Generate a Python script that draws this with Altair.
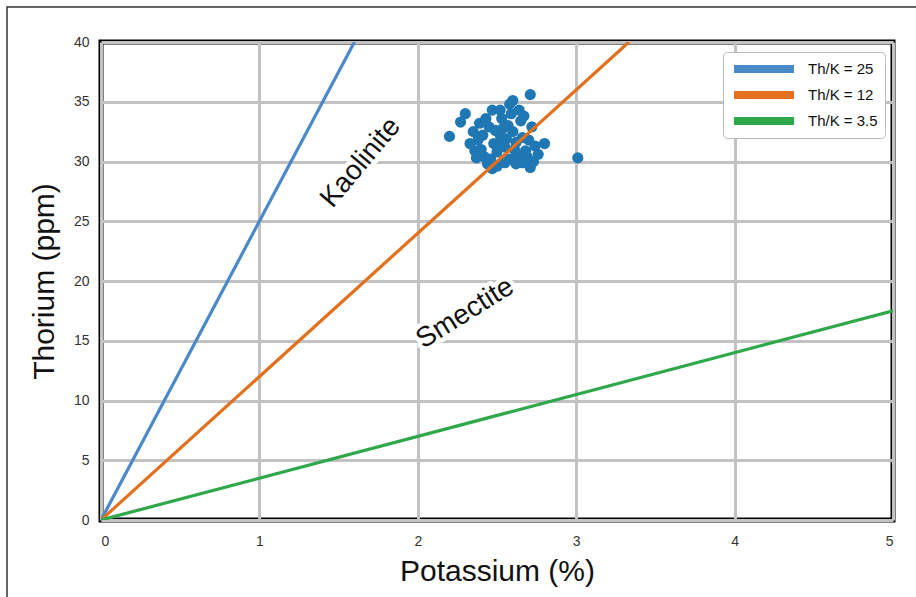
import altair as alt
import pandas as pd

# Scatter data (Potassium %, Thorium ppm)
k_vals = [2.71, 2.47, 2.52, 2.60, 2.30, 2.27, 2.20, 2.80, 3.01, 2.47, 2.71,
          2.35, 2.38, 2.40, 2.42, 2.45, 2.48, 2.50, 2.52, 2.55, 2.57, 2.58,
          2.60, 2.62, 2.63, 2.65, 2.66, 2.68, 2.70, 2.72, 2.73, 2.44, 2.50,
          2.55, 2.62, 2.36, 2.39, 2.53, 2.59, 2.64, 2.67, 2.33, 2.46, 2.49,
          2.54, 2.56, 2.61, 2.69, 2.74, 2.43, 2.58, 2.51, 2.66, 2.41, 2.37,
          2.76]
th_vals = [35.6, 34.3, 34.3, 35.1, 34.0, 33.3, 32.1, 31.5, 30.3, 29.4, 29.5,
           32.5, 31.8, 31.0, 30.4, 32.9, 31.5, 30.8, 32.2, 31.2, 33.0, 30.2,
           32.5, 31.6, 30.6, 33.4, 32.0, 30.9, 31.8, 32.9, 30.0, 29.8, 29.6,
           29.9, 29.8, 30.9, 33.2, 33.6, 34.0, 34.3, 33.8, 31.5, 30.2, 32.6,
           32.8, 31.9, 31.0, 30.4, 31.3, 33.6, 34.8, 31.4, 29.9, 32.2, 30.3,
           30.6]

# Th/K ratio lines
line_labels = ["Th/K = 25", "Th/K = 12", "Th/K = 3.5"]
line_colors = ["#4a89c8", "#e3701c", "#2ea84a"]
line_k = [[0, 1.6], [0, 3.3333], [0, 5.0]]
line_th = [[0, 40], [0, 40], [0, 17.5]]

# Region labels
region_text = ["Kaolinite", "Smectite"]
region_k = [1.64, 2.30]
region_th = [29.9, 17.3]
region_angle = [310, 328]

x_ticks = [0, 1, 2, 3, 4, 5]
y_ticks = [0, 5, 10, 15, 20, 25, 30, 35, 40]

pts = pd.DataFrame({"K": k_vals, "Th": th_vals})
rows = []
for lab, ks, ths in zip(line_labels, line_k, line_th):
    for i, (k, t) in enumerate(zip(ks, ths)):
        rows.append({"label": lab, "K": k, "Th": t, "o": i})
lines = pd.DataFrame(rows)
regions = pd.DataFrame({"text": region_text, "K": region_k, "Th": region_th,
                        "angle": region_angle})

xscale = alt.Scale(domain=[0, 5], nice=False, zero=False)
yscale = alt.Scale(domain=[0, 40], nice=False, zero=False)
xaxis = alt.Axis(values=x_ticks, title="Potassium (%)", format="d")
yaxis = alt.Axis(values=y_ticks, title="Thorium (ppm)", format="d")

frame = alt.Chart(pd.DataFrame({"a": [0]})).mark_rect(
    fill=None, stroke="#333333", strokeWidth=1.5
).encode(x=alt.value(-94), x2=alt.value(830), y=alt.value(-35), y2=alt.value(560))

scatter = alt.Chart(pts).mark_circle(size=125, opacity=1, color="#1f77b4").encode(
    x=alt.X("K:Q", scale=xscale, axis=xaxis),
    y=alt.Y("Th:Q", scale=yscale, axis=yaxis),
)

line_layer = alt.Chart(lines).mark_line(strokeWidth=3.2, strokeCap="butt", clip=True).encode(
    x=alt.X("K:Q", scale=xscale),
    y=alt.Y("Th:Q", scale=yscale),
    order="o:Q",
    color=alt.Color(
        "label:N",
        scale=alt.Scale(domain=line_labels, range=line_colors),
        sort=line_labels,
        legend=alt.Legend(
            title=None, orient="none", legendX=622, legendY=10,
            symbolType="stroke", symbolSize=3600, symbolStrokeWidth=8,
            clipHeight=20, rowPadding=6, labelOffset=10,
            labelFont="Liberation Sans", labelFontSize=15, labelColor="#111111",
            padding=7, fillColor="white", strokeColor="#bbbbbb", cornerRadius=4,
        ),
    ),
)

halo = alt.Chart(regions).mark_text(
    font="Liberation Sans", fontSize=28, stroke="white", strokeWidth=9,
    fill="white", align="center", baseline="middle", strokeJoin="round",
).encode(
    x=alt.X("K:Q", scale=xscale), y=alt.Y("Th:Q", scale=yscale),
    text="text:N", angle=alt.Angle("angle:Q", scale=None),
)
labels = alt.Chart(regions).mark_text(
    font="Liberation Sans", fontSize=28, color="#111111",
    align="center", baseline="middle",
).encode(
    x=alt.X("K:Q", scale=xscale), y=alt.Y("Th:Q", scale=yscale),
    text="text:N", angle=alt.Angle("angle:Q", scale=None),
)

chart = alt.layer(frame, scatter, line_layer, halo, labels).properties(
    width=792, height=478, background="white",
    autosize=alt.AutoSizeParams(type="none"),
    padding={"left": 101, "top": 42, "right": 23, "bottom": 77},
).configure_view(
    stroke="black", strokeWidth=5
).configure_axis(
    grid=True, gridColor="#c2c2c2", gridWidth=3, domain=False, ticks=False,
    labelFont="Liberation Sans", labelFontSize=14, labelColor="#333333",
    titleFont="Liberation Sans", titleFontSize=30, titleFontWeight="normal",
    titleColor="#111111",
).configure_axisX(
    labelPadding=14, titlePadding=8,
).configure_axisY(
    labelPadding=12, titlePadding=14,
)

chart.save("out.html", embed_options={"renderer": "svg", "actions": False})
